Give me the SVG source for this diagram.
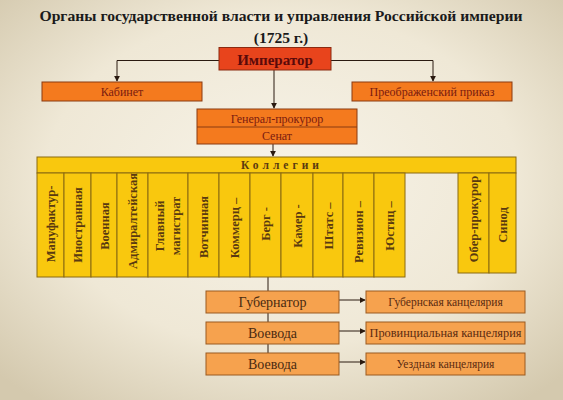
<svg xmlns="http://www.w3.org/2000/svg" width="563" height="400" viewBox="0 0 563 400">
<defs>
<radialGradient id="bg" cx="0.5" cy="0.45" r="0.7">
<stop offset="0" stop-color="#f7f3e8"/>
<stop offset="0.6" stop-color="#efe8d6"/>
<stop offset="1" stop-color="#d4c9ae"/>
</radialGradient>
<marker id="arr" viewBox="0 0 8 8" refX="7" refY="4" markerWidth="6" markerHeight="6" orient="auto" markerUnits="userSpaceOnUse">
<path d="M0,0 L8,4 L0,8 Z" fill="#2a1a10"/>
</marker>
<style>
.ttl{font-family:"Liberation Serif",serif;font-weight:bold;fill:#1a1a1a;text-anchor:middle}
.red{fill:#e8441c;stroke:#8a2a10;stroke-width:1}
.org{fill:#f47a1e;stroke:#8a3a10;stroke-width:1}
.lo{fill:#f6a24e;stroke:#9a5a20;stroke-width:1}
.yel{fill:#f9c80e;stroke:#8a6a10;stroke-width:1}
.t{font-family:"Liberation Serif",serif;fill:#7a1a10;text-anchor:middle;font-size:12px}
.tl{font-family:"Liberation Serif",serif;fill:#4a2a10;text-anchor:middle;font-size:14px}
.tr{font-family:"Liberation Serif",serif;fill:#5a2a10;text-anchor:middle;font-size:11.5px}
.c{font-family:"Liberation Serif",serif;font-weight:bold;fill:#5a3a10;text-anchor:middle;font-size:12.5px}
.ln{fill:none;stroke:#2a1a10;stroke-width:1}
</style>
</defs>
<rect x="0" y="0" width="563" height="400" fill="url(#bg)"/>
<text class="ttl" x="281" y="21" font-size="15.5" textLength="483" lengthAdjust="spacingAndGlyphs">Органы государственной власти и управления Российской империи</text>
<text class="ttl" x="281" y="43" font-size="15.5">(1725 г.)</text>

<g id="connectors">
<path class="ln" d="M219,60.5 H117 V81" marker-end="url(#arr)"/>
<path class="ln" d="M331,60.5 H433 V81" marker-end="url(#arr)"/>
<path class="ln" d="M274,70 V108" marker-end="url(#arr)"/>
<path class="ln" d="M273,144 V156" marker-end="url(#arr)"/>
<path class="ln" d="M268,277 V291"/>
<path class="ln" d="M268,313 V322"/>
<path class="ln" d="M268,344 V353"/>
<path class="ln" d="M339,300 H365" marker-end="url(#arr)"/>
<path class="ln" d="M339,331 H365" marker-end="url(#arr)"/>
<path class="ln" d="M339,362 H365" marker-end="url(#arr)"/>
</g>

<g id="imperator">
<rect class="red" x="219" y="47.5" width="112" height="22.5"/>
<text x="275" y="65" font-family="Liberation Serif, serif" font-weight="bold" font-size="15" fill="#5a0a0a" text-anchor="middle">Император</text>
</g>
<g id="kabinet">
<rect class="org" x="42" y="82" width="160" height="19"/>
<text class="t" x="122" y="96">Кабинет</text>
</g>
<g id="preobrazhensky">
<rect class="org" x="352" y="82" width="160" height="19"/>
<text class="t" x="432" y="96">Преображенский приказ</text>
</g>
<g id="senat">
<rect class="org" x="197" y="109" width="160" height="35"/>
<line x1="197" y1="127" x2="357" y2="127" stroke="#8a3a10" stroke-width="1"/>
<text class="t" x="277" y="123">Генерал-прокурор</text>
<text class="t" x="277" y="140">Сенат</text>
</g>

<g id="kollegii">
<rect class="yel" x="37" y="157" width="479" height="16"/>
<text x="282" y="169" font-family="Liberation Serif, serif" font-weight="bold" font-size="11.5" fill="#5a3a10" text-anchor="middle" letter-spacing="4">Коллегии</text>
<rect class="yel" x="37" y="173" width="27" height="104"/>
<rect class="yel" x="64" y="173" width="27" height="104"/>
<rect class="yel" x="91" y="173" width="26" height="104"/>
<rect class="yel" x="117" y="173" width="31" height="104"/>
<rect class="yel" x="148" y="173" width="40" height="104"/>
<rect class="yel" x="188" y="173" width="31" height="104"/>
<rect class="yel" x="219" y="173" width="31" height="104"/>
<rect class="yel" x="250" y="173" width="31" height="104"/>
<rect class="yel" x="281" y="173" width="32" height="104"/>
<rect class="yel" x="313" y="173" width="30" height="104"/>
<rect class="yel" x="343" y="173" width="31" height="104"/>
<rect class="yel" x="374" y="173" width="31" height="104"/>
<rect class="yel" x="458" y="173" width="31" height="100"/>
<rect class="yel" x="489" y="173" width="27" height="100"/>
<text class="c" transform="translate(55,224) rotate(-90)">Мануфактур-</text>
<text class="c" transform="translate(82,225) rotate(-90)">Иностранная</text>
<text class="c" transform="translate(108.5,226) rotate(-90)">Военная</text>
<text class="c" transform="translate(137,221) rotate(-90)">Адмиралтейская</text>
<text class="c" transform="translate(164,226) rotate(-90)">Главный</text>
<text class="c" transform="translate(180,226) rotate(-90)">магистрат</text>
<text class="c" transform="translate(208,227) rotate(-90)">Вотчинная</text>
<text class="c" transform="translate(239,228) rotate(-90)">Коммерц –</text>
<text class="c" transform="translate(270,224) rotate(-90)">Берг -</text>
<text class="c" transform="translate(301.5,226) rotate(-90)">Камер -</text>
<text class="c" transform="translate(332.5,226) rotate(-90)">Штатс –</text>
<text class="c" transform="translate(363,232) rotate(-90)">Ревизион –</text>
<text class="c" transform="translate(394,226) rotate(-90)">Юстиц –</text>
<text class="c" transform="translate(478,219) rotate(-90)">Обер-прокурор</text>
<text class="c" transform="translate(507,225) rotate(-90)">Синод</text>
</g>

<g id="gubernator">
<rect class="lo" x="206" y="291" width="133" height="22"/>
<text class="tl" x="272.5" y="307">Губернатор</text>
</g>
<g id="voevoda1">
<rect class="lo" x="206" y="322" width="133" height="22"/>
<text class="tl" x="272.5" y="338">Воевода</text>
</g>
<g id="voevoda2">
<rect class="lo" x="206" y="353" width="133" height="22"/>
<text class="tl" x="272.5" y="369">Воевода</text>
</g>
<g id="gub-kanc">
<rect class="lo" x="366" y="291" width="159" height="22"/>
<text class="tr" x="445.5" y="306">Губернская канцелярия</text>
</g>
<g id="prov-kanc">
<rect class="lo" x="366" y="322" width="159" height="22"/>
<text class="tr" x="445.5" y="337" textLength="152" lengthAdjust="spacingAndGlyphs">Провинциальная канцелярия</text>
</g>
<g id="uezd-kanc">
<rect class="lo" x="366" y="353" width="159" height="22"/>
<text class="tr" x="445.5" y="368">Уездная канцелярия</text>
</g>
</svg>
